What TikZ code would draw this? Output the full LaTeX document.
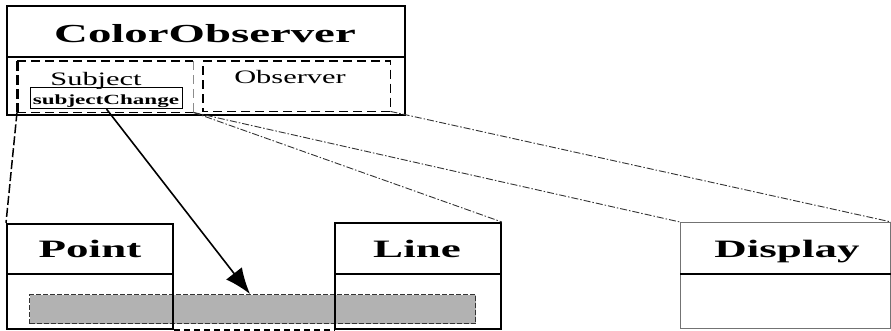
\documentclass[tikz,border=0pt]{standalone}
\usepackage{fontspec}
\setmainfont{Liberation Serif}
\usepackage{graphicx}
\usetikzlibrary{arrows.meta}
% wide, horizontally stretched lettering: [stretch]{size}{text}
\newcommand{\wide}[3][1.8]{\scalebox{#1}[1]{\fontsize{#2}{#2}\selectfont #3}}

\begin{document}
\begin{tikzpicture}[x=1pt,y=-1pt,
  cls/.style={draw=black, line width=1.9pt, anchor=north west, inner sep=0pt},
  title/.style={inner sep=0pt, anchor=base, font=\bfseries},
  part/.style={anchor=north west, inner sep=0pt},
  partedge/.style={draw=black, line width=1.3pt, dash pattern=on 9pt off 5pt},
  link/.style={draw=black!80, line width=0.9pt, dash pattern=on 7pt off 2pt on 1.5pt off 2pt},
  divider/.style={draw=black, line width=2.2pt},
]
\useasboundingbox (0,0) rectangle (891,330);

% shared field spanning Point and Line
\node[draw=black!80, fill=black!30, line width=1.2pt, dash pattern=on 5pt off 2pt,
      minimum width=446pt, minimum height=29pt, anchor=north west, inner sep=0pt] (field) at (29,294) {};

% composite class
\node[cls, minimum width=398pt, minimum height=109pt] (co) at (6,5) {};
\draw[divider] (co.west |- 0,57) -- (co.east |- 0,57);
\node[title] (cot) at (205,42) {\wide{26}{ColorObserver}};

% role parts
\node[part, minimum width=176pt, minimum height=51pt] (subj) at (17,61) {};
\draw[partedge] (subj.north west) -- (subj.north east);
\draw[partedge] (subj.south west) -- (subj.south east);
\draw[partedge, draw=black!45, line width=1pt] (subj.north east) -- (subj.south east);
\draw[line width=3pt, dash pattern=on 10pt off 4pt] (subj.north west) -- (subj.south west);
\node[inner sep=0pt, anchor=base] (subjt) at (96,85) {\wide[1.6]{19}{Subject}};
\node[draw=black, line width=1.1pt, minimum width=152pt, minimum height=21pt, inner sep=0pt, anchor=north west] (sc) at (30,87) {};
\node[inner sep=0pt, anchor=base, font=\bfseries] (sct) at (106,104) {\wide[1.65]{14}{subjectChange}};

\node[part, minimum width=187pt, minimum height=50pt] (obs) at (203,61) {};
\draw[partedge] (obs.north west) -- (obs.north east) -- (obs.south east) -- (obs.south west) -- cycle;
\node[inner sep=0pt, anchor=base] (obst) at (290,83) {\wide[1.6]{19}{Observer}};

% component classes
\node[cls, minimum width=166pt, minimum height=105pt] (pt) at (6,223) {};
\draw[divider] (pt.west |- 0,274) -- (pt.east |- 0,274);
\node[title] (ptt) at (90,257) {\wide{25}{Point}};

\node[cls, minimum width=166pt, minimum height=106pt] (ln) at (334,222) {};
\draw[divider] (ln.west |- 0,274) -- (ln.east |- 0,274);
\node[title] (lnt) at (417,257) {\wide{25}{Line}};

\node[cls, draw=black!55, line width=1.3pt, minimum width=210pt, minimum height=106pt] (disp) at (680,222) {};
\draw[divider] (disp.west |- 0,274) -- (disp.east |- 0,274);
\node[title] (dispt) at (787,257) {\wide{25}{Display}};

% dashed base between Point and Line
\draw[line width=1.3pt, dash pattern=on 6pt off 4pt] (pt.south east) -- (ln.south west);

% role bindings
\draw[link, draw=black, line width=1.5pt, dash pattern=on 9pt off 3pt] (subj.south west) -- (pt.north west);
\draw[link] (subj.south east) -- (ln.north east);
\draw[link] (subj.south east) -- (disp.north west);
\draw[link] (obs.south east) -- (disp.north east);

% message
\draw[line width=1.6pt, -{Latex[length=26pt,width=20pt]}] (sc.south) -- (field.north -| 250,0);
\end{tikzpicture}
\end{document}
